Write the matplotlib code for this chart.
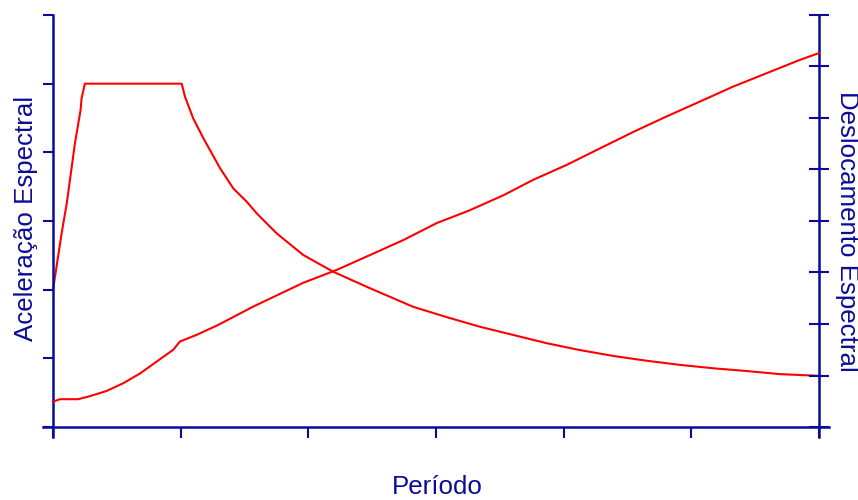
import matplotlib
matplotlib.use("Agg")
import matplotlib.pyplot as plt
from matplotlib.lines import Line2D

# Acceleration spectrum (left axis)
acc_T = [0.0, 0.034, 0.054, 0.086, 0.108, 0.112, 0.125, 0.504, 0.517, 0.549, 0.589,
         0.622, 0.654, 0.706, 0.759, 0.798, 0.876, 0.980, 1.098, 1.242, 1.411, 1.542,
         1.672, 1.803, 1.934, 2.064, 2.194, 2.325, 2.455, 2.586, 2.717, 2.847, 3.0]
acc_S = [0.400, 0.565, 0.652, 0.827, 0.923, 0.958, 1.000, 1.000, 0.962, 0.899, 0.841,
         0.797, 0.754, 0.695, 0.656, 0.622, 0.564, 0.501, 0.452, 0.404, 0.350, 0.320,
         0.292, 0.268, 0.244, 0.224, 0.207, 0.193, 0.181, 0.171, 0.163, 0.154, 0.149]

# Displacement spectrum (right axis)
dis_T = [0.0, 0.027, 0.099, 0.145, 0.210, 0.275, 0.341, 0.406, 0.471, 0.497, 0.563,
         0.646, 0.785, 0.980, 1.111, 1.242, 1.372, 1.503, 1.633, 1.764, 1.881, 2.012,
         2.142, 2.273, 2.403, 2.534, 2.664, 2.795, 2.926, 3.0]
dis_S = [0.49, 0.54, 0.54, 0.60, 0.70, 0.85, 1.04, 1.27, 1.50, 1.66, 1.79,
         1.98, 2.34, 2.80, 3.05, 3.34, 3.63, 3.96, 4.21, 4.50, 4.80, 5.09,
         5.41, 5.73, 6.03, 6.32, 6.61, 6.87, 7.13, 7.26]

x_ticks = [0, 0.5, 1.0, 1.5, 2.0, 2.5, 3.0]
left_ticks = [0, 0.2, 0.4, 0.6, 0.8, 1.0, 1.2]
right_ticks = [0, 1, 2, 3, 4, 5, 6, 7, 8]

navy = "#0b0b99"
red = "#ff0000"
plt.rcParams['font.family'] = ['Liberation Sans', 'DejaVu Sans']

fig = plt.figure(figsize=(8.58, 5.0), dpi=100)
ax = fig.add_axes([53/858, 73/500, 766/858, 412/500])
ax2 = ax.twinx()

ax.plot(acc_T, acc_S, color=red, lw=1.5, clip_on=False)
ax2.plot(dis_T, dis_S, color=red, lw=1.5, clip_on=False)

ax.set_xlim(0, 3)
ax.set_ylim(0, 1.2)
ax2.set_ylim(0, 8)
ax.set_xticks(x_ticks)
ax.set_yticks(left_ticks)
ax2.set_yticks(right_ticks)
ax.set_xticklabels([])
ax.set_yticklabels([])
ax2.set_yticklabels([])

for a in (ax, ax2):
    for s in a.spines.values():
        s.set_visible(False)

ax.tick_params(axis='x', direction='out', length=8, width=1.5, color=navy)
ax.tick_params(axis='y', direction='out', length=7.5, width=1.5, color=navy)
ax2.tick_params(axis='y', direction='inout', length=15, width=1.5, color=navy)

# axis lines extending beyond the plot area
ex = 10/766
ey = 10/412
lk = dict(color=navy, lw=1.8, transform=ax.transAxes, clip_on=False)
ax.add_line(Line2D([-ex, 1 + ex], [0, 0], **lk))
ax.add_line(Line2D([0, 0], [-ey, 1], **lk))
ax.add_line(Line2D([1, 1], [-ey, 1], **lk))

fs = 18.6
fig.text(437/858, 1 - 487/500, "Período", color=navy, fontsize=fs,
         ha='center', va='center')
fig.text(26/858, 1 - 218/500, "Aceleração Espectral", color=navy, fontsize=fs,
         ha='center', va='center', rotation=90)
fig.text(847/858, 1 - 231/500, "Deslocamento Espectral", color=navy, fontsize=fs,
         ha='center', va='center', rotation=270)

fig.savefig("out.png", dpi=100)
